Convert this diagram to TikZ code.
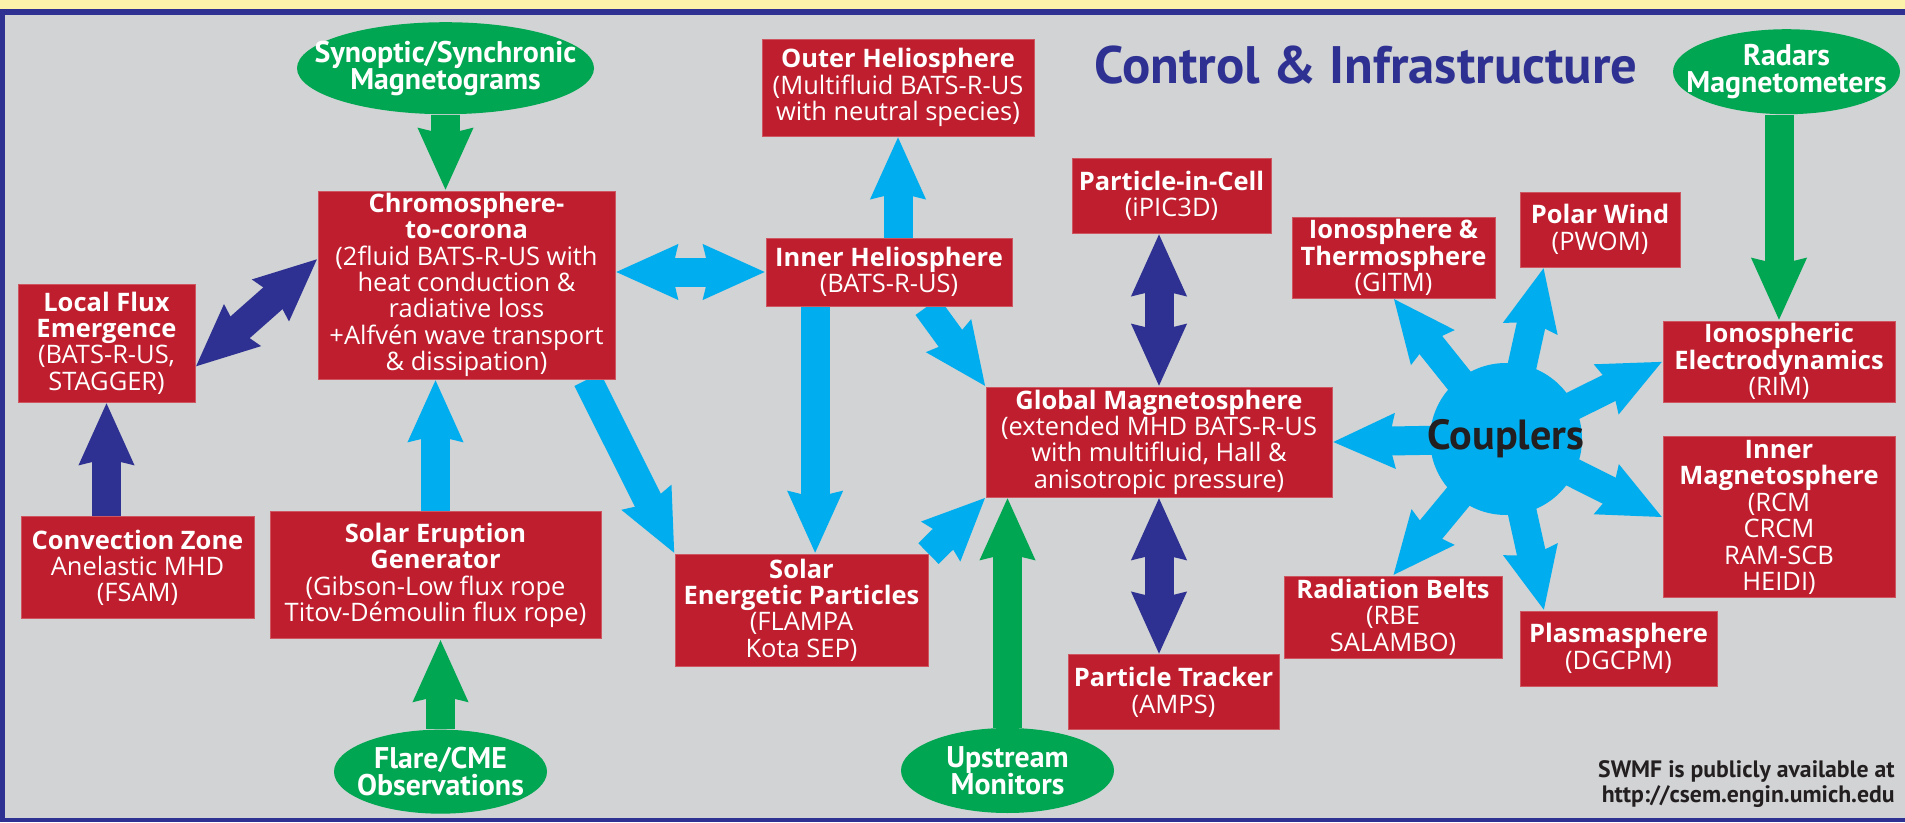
\documentclass[tikz,border=0pt]{standalone}
\usepackage{fontspec}
\setmainfont{PT Sans}
\newfontfamily\boxfont{Open Sans}
\usetikzlibrary{positioning, arrows.meta, shapes.geometric}

\definecolor{boxred}{HTML}{BE1E2D}
\definecolor{obsgreen}{HTML}{00A651}
\definecolor{swmfcyan}{HTML}{00AEEF}
\definecolor{swmfnavy}{HTML}{2E3192}
\definecolor{panelgray}{HTML}{D1D3D4}
\definecolor{banneryellow}{HTML}{FDF2A9}
\definecolor{inkblack}{HTML}{231F20}

\pgfdeclarelayer{background}
\pgfsetlayers{background,main}

\begin{document}
\begin{tikzpicture}[>={Stealth[length=1.22cm, width=1.04cm, inset=0.1cm]}]

    \tikzstyle{model} = [rectangle, draw=boxred!75!white, line width=0.5pt, fill=boxred, text=white, align=center, inner sep=1pt, font=\boxfont\fontsize{14.5}{15}\selectfont]
    \tikzstyle{obs} = [ellipse, fill=obsgreen, text=white, align=center, inner sep=-1.5cm, font=\bfseries\fontsize{17}{15.5}\selectfont]
    \tikzstyle{cyan_line} = [draw, swmfcyan, line width=0.58cm]
    \tikzstyle{navy_line} = [draw, swmfnavy, line width=0.58cm]
    \tikzstyle{green_line} = [draw, obsgreen, line width=0.58cm]

    \useasboundingbox (0,0) rectangle (38.1,16.44);
    \begin{pgfonlayer}{background}
        \fill [panelgray] (0,0) rectangle (38.1,16.44);
        \fill [banneryellow] (0,16.26) rectangle (38.1,16.44);
        \fill [swmfnavy] (0,16.14) rectangle (38.1,16.26);
        \fill [swmfnavy] (0,0) rectangle (0.1,16.26);
        \fill [swmfnavy] (0,0) rectangle (38.1,0.08);
    \end{pgfonlayer}

    \node [model, minimum width=5.94cm, minimum height=3.76cm] (chromo) at (9.33,10.74) {\textbf{Chromosphere-}\\\textbf{to-corona}\\(2fluid BATS-R-US with\\heat conduction \&\\radiative loss\\+Alfvén wave transport\\\& dissipation)};
    \node [obs, minimum width=5.94cm, minimum height=1.84cm, above=1.52cm of chromo, xshift=-0.42cm] (synoptic) {Synoptic/Synchronic\\Magnetograms};
    \node [model, minimum width=3.54cm, minimum height=2.36cm] (local) at (2.13,9.58) {\textbf{Local Flux}\\\textbf{Emergence}\\(BATS-R-US,\\STAGGER)};
    \node [model, minimum width=4.66cm, minimum height=2.04cm, below=2.28cm of local, xshift=0.62cm] (convection) {\textbf{Convection Zone}\\Anelastic MHD\\(FSAM)};
    \node [model, minimum width=6.62cm, minimum height=2.54cm, below=2.64cm of chromo, xshift=-0.62cm] (eruption) {\textbf{Solar Eruption}\\\textbf{Generator}\\(Gibson-Low flux rope\\Titov-Démoulin flux rope)};
    \node [obs, minimum width=4.26cm, minimum height=1.68cm, below=1.8cm of eruption, xshift=0.1cm] (flare) {Flare/CME\\Observations};

    \node [model, minimum width=4.92cm, minimum height=1.36cm] (inner) at (17.78,11.0) {\textbf{Inner Heliosphere}\\(BATS-R-US)};
    \node [model, minimum width=5.44cm, minimum height=1.94cm, above=2.02cm of inner, xshift=0.18cm] (outer) {\textbf{Outer Heliosphere}\\(Multifluid BATS-R-US\\with neutral species)};
    \node [model, minimum width=5.06cm, minimum height=2.24cm] (sep) at (16.03,4.24) {\textbf{Solar}\\\textbf{Energetic Particles}\\(FLAMPA\\Kota SEP)};
    \node [model, minimum width=6.92cm, minimum height=2.2cm] (global) at (23.18,7.60) {\textbf{Global Magnetosphere}\\(extended MHD BATS-R-US\\with multifluid, Hall \&\\anisotropic pressure)};
    \node [model, minimum width=3.98cm, minimum height=1.5cm, above=3.06cm of global, xshift=0.25cm] (pic) {\textbf{Particle-in-Cell}\\(iPIC3D)};
    \node [model, minimum width=4.22cm, minimum height=1.5cm, below=3.14cm of global, xshift=0.29cm] (tracker) {\textbf{Particle Tracker}\\(AMPS)};
    \node [obs, minimum width=4.26cm, minimum height=1.7cm] (upstream) at (20.15,1.03) {Upstream\\Monitors};

    \node [circle, fill=swmfcyan, minimum size=3.04cm] (couplers) at (30.12,7.66) {};
    \node [model, minimum width=4.06cm, minimum height=1.62cm] (thermo) at (27.87,11.29) {\textbf{Ionosphere \&}\\\textbf{Thermosphere}\\(GITM)};
    \node [model, minimum width=3.2cm, minimum height=1.5cm] (polar) at (32.0,11.85) {\textbf{Polar Wind}\\(PWOM)};
    \node [model, minimum width=4.64cm, minimum height=1.62cm] (electro) at (35.58,9.21) {\textbf{Ionospheric}\\\textbf{Electrodynamics}\\(RIM)};
    \node [model, minimum width=4.64cm, minimum height=3.22cm, below=0.68cm of electro] (innermag) {\textbf{Inner}\\\textbf{Magnetosphere}\\(RCM\\CRCM\\RAM-SCB\\HEIDI)};
    \node [obs, minimum width=4.54cm, minimum height=1.7cm, above=4.12cm of electro, xshift=0.15cm] (radars) {Radars\\Magnetometers};
    \node [model, minimum width=4.36cm, minimum height=1.64cm] (belts) at (27.86,4.10) {\textbf{Radiation Belts}\\(RBE\\SALAMBO)};
    \node [model, minimum width=3.94cm, minimum height=1.5cm] (plasma) at (32.37,3.47) {\textbf{Plasmasphere}\\(DGCPM)};

    \node [font=\bfseries\fontsize{30}{31}\selectfont, text=swmfnavy] (title) at (27.32,15.14) {Control \& Infrastructure};
    \node [font=\bfseries\fontsize{13.5}{14}\selectfont, text=inkblack, align=right, anchor=east, inner sep=0pt] (note) at (37.9,0.76) {SWMF is publicly available at\\http://csem.engin.umich.edu};

    \begin{pgfonlayer}{background}
        \path [green_line, ->] (synoptic.south) -- (synoptic.south |- chromo.north);
        \path [green_line, ->] (radars.south -| electro.north) -- (electro.north);
        \path [green_line, ->] (flare.north) -- (flare.north |- eruption.south);
        \path [green_line, ->] (upstream.north) -- (upstream.north |- global.south);
        \path [navy_line, ->] (local.south |- convection.north) -- (local.south);
        \path [navy_line, <->] (local.-15) -- (chromo.170);
        \path [cyan_line, ->] (eruption.north) -- (eruption.north |- chromo.south);
        \path [cyan_line, <->] (chromo.east |- inner.west) -- (inner.west);
        \path [cyan_line, ->] (outer.south |- inner.north) -- (outer.south);
        \path [cyan_line, ->] (inner.-42) -- (global.north west);
        \path [cyan_line, ->] (inner.205) -- (inner.205 |- sep.north);
        \path [cyan_line, ->] (chromo.-38) -- (sep.north west);
        \path [cyan_line, ->] (sep.north east) -- (global.south west);
        \path [navy_line, <->] (global.north |- pic.south) -- (global.north);
        \path [navy_line, <->] (global.south) -- (global.south |- tracker.north);
        \foreach \target in {global.east, thermo.south, polar.214, electro.west, innermag.west, plasma.153, belts.north}
            \path [cyan_line, ->] (couplers.center) -- (\target);
    \end{pgfonlayer}

    \node [font=\bfseries\fontsize{24}{25}\selectfont, text=inkblack] (couplers_label) at (couplers) {Couplers};
\end{tikzpicture}
\end{document}
